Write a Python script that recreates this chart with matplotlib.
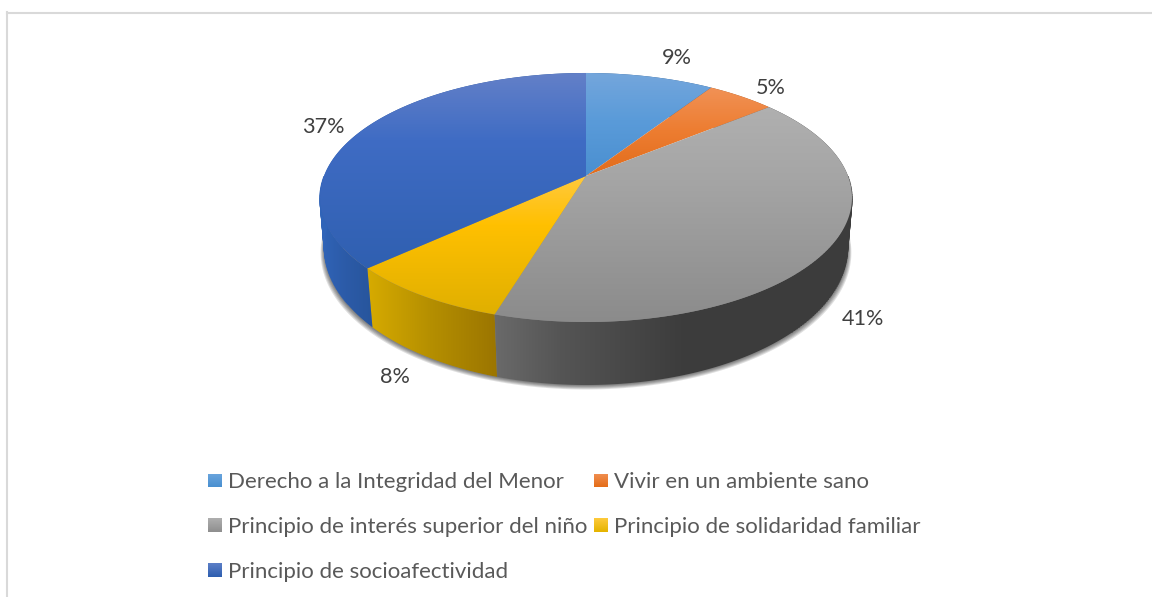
import numpy as np
import matplotlib
matplotlib.use("Agg")
import matplotlib.pyplot as plt
from matplotlib.patches import Polygon, Rectangle
from matplotlib.colors import to_rgb

# ---- data ----
categories = ["Derecho a la Integridad del Menor", "Vivir en un ambiente sano",
              "Principio de interés superior del niño", "Principio de solidaridad familiar",
              "Principio de socioafectividad"]
values = [9.2, 4.9, 40.6, 8.49, 36.81]

# ---- styles ----
top_stops = [
    [(73, "#74A6DC"), (120, "#5A9BD9"), (176, "#4A8FD0")],
    [(88, "#F19155"), (130, "#ED7D31"), (176, "#E26C1B")],
    [(105, "#B0B0B0"), (180, "#A5A5A5"), (322, "#8B8B8B")],
    [(176, "#FFC93E"), (225, "#FFC000"), (316, "#DFAF00")],
    [(73, "#6380C8"), (140, "#3F6CC4"), (270, "#2F5FB0")],
]
wall_stops = [
    [(586, "#2F5F90"), (720, "#2F5F90")],
    [(720, "#9E4F1C"), (780, "#9E4F1C")],
    [(495, "#6A6A6A"), (560, "#555555"), (680, "#3D3D3D"), (852, "#3C3C3C")],
    [(365, "#D8AC00"), (430, "#B58F00"), (497, "#9B7500")],
    [(320, "#3064B8"), (345, "#2C5BA8"), (372, "#27559C")],
]
swatch_stops = [("#6CA6DE", "#4A90D0"), ("#F19155", "#E56D18"), ("#B0B0B0", "#8F8F8F"),
                ("#FFCB3E", "#E5B400"), ("#5E80C8", "#2F5FB0")]
label_xy = [(677, 57.5), (771, 87.5), (863, 319), (395, 377), (323, 127)]
legend_xy = [(208, 480.5), (594, 480.5), (208, 525), (594, 525), (208, 570)]

CX, CY, A, B, K = 586.0, 176.0, 262.0, 120.8, 0.1727
LEG_FS, LAB_FS = 16.0, 15.6
FONT = "Lato"


def top_xy(theta):
    X, Y = np.sin(theta), np.cos(theta)
    d = 1 + K * Y
    return CX + A * X / d, CY - B * Y / d


def bottom_xy(theta):
    x, y = top_xy(theta)
    return CX + (x - CX) * (0.985 + 0.012 * np.cos(theta)), y + 50 - 13 * np.cos(theta)


fig = plt.figure(figsize=(11.52, 5.97), dpi=100, facecolor="white")
ax = fig.add_axes([0, 0, 1, 1])
ax.set_xlim(0, 1152)
ax.set_ylim(597, 0)
ax.axis("off")


def gradient(stops, patch, vertical=True, z=2):
    pos = np.array([s[0] for s in stops], float)
    cols = np.array([to_rgb(s[1]) for s in stops])
    ax_range = np.linspace(0, 600 if vertical else 1152, 601)
    rgb = np.stack([np.interp(ax_range, pos, cols[:, i]) for i in range(3)], axis=-1)
    if vertical:
        im = ax.imshow(rgb[:, None, :], extent=(0, 1152, 600, 0), aspect="auto", zorder=z,
                       interpolation="bilinear")
    else:
        im = ax.imshow(rgb[None, :, :], extent=(0, 1152, 597, 0), aspect="auto", zorder=z,
                       interpolation="bilinear")
    patch.set_transform(ax.transData)
    im.set_clip_path(patch)
    ax.set_xlim(0, 1152)
    ax.set_ylim(597, 0)


# frame
ax.plot([7, 7], [12, 597], color="#D9D9D9", lw=1.5, zorder=1)
ax.plot([7, 1152], [12.5, 12.5], color="#D9D9D9", lw=1.5, zorder=1)

# soft shadow below the wall
full = np.linspace(np.pi * 0.45, np.pi * 1.55, 300)
bx, by = bottom_xy(full)
for i in range(1, 6):
    sx = CX + (bx - CX) * (1 + 0.003 * i)
    sy = by + 0.9 * i
    ax.fill(np.r_[sx, CX], np.r_[sy, CY], color="black", alpha=0.12, lw=0, zorder=1.5)

# slices
edges = np.r_[0, np.cumsum(values)] / np.sum(values) * 2 * np.pi
for i in range(len(values)):
    th = np.linspace(edges[i], edges[i + 1], 200)
    tx, ty = top_xy(th)
    wx, wy = bottom_xy(th)
    wall = Polygon(np.c_[np.r_[tx, wx[::-1]], np.r_[ty, wy[::-1]]], closed=True)
    gradient(wall_stops[i], wall, vertical=False, z=3 + (0.5 if i == 2 or i == 4 else 0))

# wall strips closing the silhouette where the top rim turns away from the base
for idx, rng in ((2, (0.5, 0.75)), (4, (1.32, 1.5))):
    col = wall_stops[idx][-1][1] if idx == 2 else wall_stops[idx][0][1]
    for t in np.linspace(rng[0] * np.pi, rng[1] * np.pi, 60):
        (x0, y0), (x1, y1) = top_xy(t), bottom_xy(t)
        ax.plot([x0, x1], [y0, y1], color=col, lw=1.0, zorder=3.2, solid_capstyle="butt")

for i in range(len(values)):
    th = np.linspace(edges[i], edges[i + 1], 200)
    tx, ty = top_xy(th)
    top = Polygon(np.c_[np.r_[CX, tx], np.r_[CY, ty]], closed=True)
    gradient(top_stops[i], top, vertical=True, z=5)

# data labels
for v, (x, y) in zip(values, label_xy):
    ax.text(x, y, f"{v:.0f}%", ha="center", va="center", fontsize=LAB_FS,
            color="#404040", family=FONT, zorder=6)

# legend
for name, (x, y), (c0, c1) in zip(categories, legend_xy, swatch_stops):
    sq = Rectangle((x, y - 7), 14, 14)
    gradient([(y - 7, c0), (y + 7, c1)], sq, vertical=True, z=6)
    ax.text(x + 20, y, name, ha="left", va="center_baseline", fontsize=LEG_FS,
            color="#595959", family=FONT, zorder=6)

fig.savefig("out.png", dpi=100, facecolor="white")
